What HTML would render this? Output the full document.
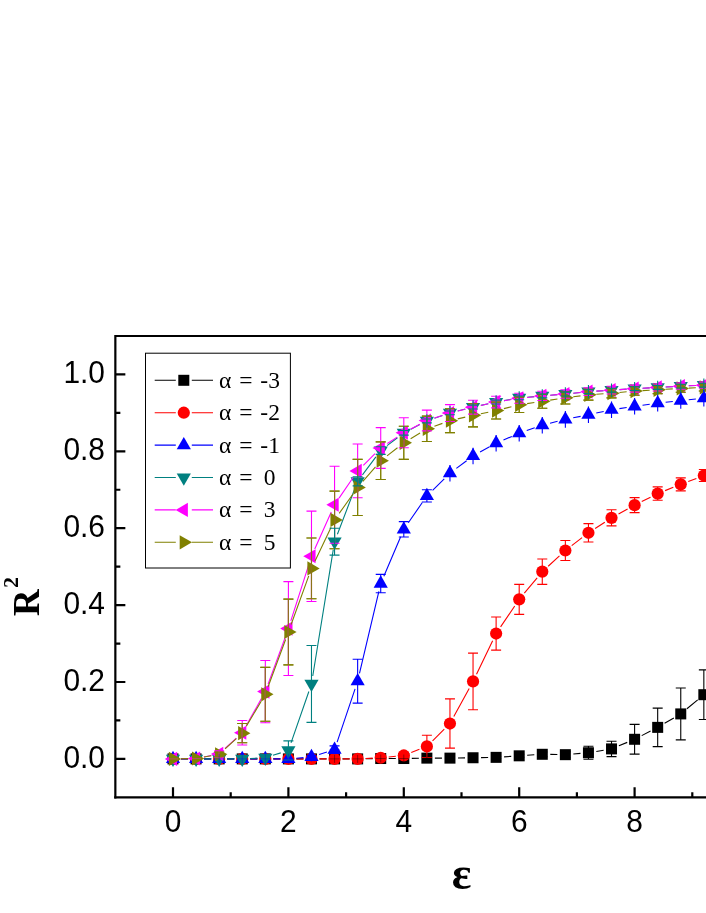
<!DOCTYPE html>
<html><head><meta charset="utf-8"><title>chart</title>
<style>html,body{margin:0;padding:0;background:#fff}body{width:706px;height:913px;overflow:hidden}</style>
</head><body>
<svg width="706" height="913" viewBox="0 0 706 913" style="display:block;will-change:transform">
<rect width="706" height="913" fill="#fff"/>
<path d="M181.00 758.90L188.08 758.90M204.08 758.90L211.16 758.90M227.16 758.90L234.24 758.90M250.24 758.90L257.32 758.90M273.32 758.90L280.40 758.90M296.40 758.90L303.48 758.90M319.48 758.90L326.56 758.90M342.56 758.90L349.64 758.90M365.64 758.77L372.72 758.65M388.72 758.52L395.80 758.52M411.80 758.38L418.88 758.26M434.88 758.13L441.96 758.13M457.96 758.00L465.04 757.88M481.04 757.61L488.12 757.50M504.10 756.83L511.22 756.36M527.18 755.29L534.30 754.82M550.28 754.42L557.36 754.54M573.33 754.01L580.47 753.41M596.33 751.43L603.63 750.22M618.91 745.83L627.21 742.37M641.71 735.62L650.57 731.04M664.59 723.34L673.85 717.94M686.91 708.79L697.69 699.81M709.59 689.13L721.17 677.95" stroke="#000000" stroke-width="1.1" fill="none"/>
<rect x="167.50" y="753.40" width="11" height="11" fill="#000000"/>
<rect x="190.58" y="753.40" width="11" height="11" fill="#000000"/>
<rect x="213.66" y="753.40" width="11" height="11" fill="#000000"/>
<rect x="236.74" y="753.40" width="11" height="11" fill="#000000"/>
<rect x="259.82" y="753.40" width="11" height="11" fill="#000000"/>
<rect x="282.90" y="753.40" width="11" height="11" fill="#000000"/>
<rect x="305.98" y="753.40" width="11" height="11" fill="#000000"/>
<rect x="329.06" y="753.40" width="11" height="11" fill="#000000"/>
<rect x="352.14" y="753.40" width="11" height="11" fill="#000000"/>
<rect x="375.22" y="753.02" width="11" height="11" fill="#000000"/>
<rect x="398.30" y="753.02" width="11" height="11" fill="#000000"/>
<rect x="421.38" y="752.63" width="11" height="11" fill="#000000"/>
<rect x="444.46" y="752.63" width="11" height="11" fill="#000000"/>
<rect x="467.54" y="752.25" width="11" height="11" fill="#000000"/>
<rect x="490.62" y="751.86" width="11" height="11" fill="#000000"/>
<rect x="513.70" y="750.32" width="11" height="11" fill="#000000"/>
<rect x="536.78" y="748.79" width="11" height="11" fill="#000000"/>
<rect x="559.86" y="749.17" width="11" height="11" fill="#000000"/>
<rect x="582.94" y="747.25" width="11" height="11" fill="#000000"/>
<rect x="606.02" y="743.40" width="11" height="11" fill="#000000"/>
<rect x="629.10" y="733.79" width="11" height="11" fill="#000000"/>
<rect x="652.18" y="721.87" width="11" height="11" fill="#000000"/>
<rect x="675.26" y="708.41" width="11" height="11" fill="#000000"/>
<rect x="698.34" y="689.19" width="11" height="11" fill="#000000"/>
<rect x="721.42" y="666.89" width="11" height="11" fill="#000000"/>
<path d="M181.00 758.90L188.08 758.90M204.08 758.90L211.16 758.90M227.16 758.90L234.24 758.90M250.24 758.90L257.32 758.90M273.32 758.90L280.40 758.90M296.40 758.90L303.48 758.90M319.48 758.90L326.56 758.90M342.56 758.90L349.64 758.90M365.63 758.50L372.73 758.15M388.68 756.95L395.84 756.24M411.25 752.52L419.43 749.32M432.56 740.77L444.28 729.16M453.81 716.51L469.19 688.44M476.51 674.22L492.65 640.76M500.59 626.92L514.73 605.96M524.32 593.19L537.16 577.79M548.18 566.24L559.46 555.91M571.71 545.63L582.09 537.68M595.15 528.46L604.81 522.18M618.53 513.96L627.59 508.98M641.76 501.55L650.52 497.17M665.11 490.62L673.33 487.34M688.23 481.50L696.37 478.39M711.50 473.23L719.26 470.90" stroke="#ff0000" stroke-width="1.1" fill="none"/>
<circle cx="173.00" cy="758.90" r="6.1" fill="#ff0000"/>
<circle cx="196.08" cy="758.90" r="6.1" fill="#ff0000"/>
<circle cx="219.16" cy="758.90" r="6.1" fill="#ff0000"/>
<circle cx="242.24" cy="758.90" r="6.1" fill="#ff0000"/>
<circle cx="265.32" cy="758.90" r="6.1" fill="#ff0000"/>
<circle cx="288.40" cy="758.90" r="6.1" fill="#ff0000"/>
<circle cx="311.48" cy="758.90" r="6.1" fill="#ff0000"/>
<circle cx="334.56" cy="758.90" r="6.1" fill="#ff0000"/>
<circle cx="357.64" cy="758.90" r="6.1" fill="#ff0000"/>
<circle cx="380.72" cy="757.75" r="6.1" fill="#ff0000"/>
<circle cx="403.80" cy="755.44" r="6.1" fill="#ff0000"/>
<circle cx="426.88" cy="746.40" r="6.1" fill="#ff0000"/>
<circle cx="449.96" cy="723.53" r="6.1" fill="#ff0000"/>
<circle cx="473.04" cy="681.42" r="6.1" fill="#ff0000"/>
<circle cx="496.12" cy="633.55" r="6.1" fill="#ff0000"/>
<circle cx="519.20" cy="599.33" r="6.1" fill="#ff0000"/>
<circle cx="542.28" cy="571.65" r="6.1" fill="#ff0000"/>
<circle cx="565.36" cy="550.50" r="6.1" fill="#ff0000"/>
<circle cx="588.44" cy="532.81" r="6.1" fill="#ff0000"/>
<circle cx="611.52" cy="517.82" r="6.1" fill="#ff0000"/>
<circle cx="634.60" cy="505.13" r="6.1" fill="#ff0000"/>
<circle cx="657.68" cy="493.59" r="6.1" fill="#ff0000"/>
<circle cx="680.76" cy="484.37" r="6.1" fill="#ff0000"/>
<circle cx="703.84" cy="475.52" r="6.1" fill="#ff0000"/>
<circle cx="726.92" cy="468.60" r="6.1" fill="#ff0000"/>
<path d="M181.00 758.90L188.08 758.90M204.08 758.90L211.16 758.90M227.16 758.90L234.24 758.90M250.24 758.90L257.32 758.90M273.32 758.90L280.40 758.90M296.37 758.24L303.51 757.64M319.11 754.56L326.93 752.09M337.12 742.09L355.08 688.81M359.48 673.45L378.88 591.35M383.85 576.21L400.67 536.71M408.34 522.77L422.34 502.49M432.59 490.29L444.25 478.82M456.36 468.42L466.64 460.71M480.05 452.06L489.11 447.08M503.46 440.05L511.86 436.41M526.75 430.59L534.73 427.80M550.04 423.21L557.60 421.33M573.20 417.82L580.60 416.34M596.26 413.08L603.70 411.47M619.43 408.59L626.69 407.50M642.53 405.26L649.75 404.29M665.63 402.31L672.81 401.47M688.72 399.75L695.88 399.03M711.81 397.57L718.95 396.98" stroke="#0000ff" stroke-width="1.1" fill="none"/>
<polygon points="173.00,750.70 165.90,763.00 180.10,763.00" fill="#0000ff"/>
<polygon points="196.08,750.70 188.98,763.00 203.18,763.00" fill="#0000ff"/>
<polygon points="219.16,750.70 212.06,763.00 226.26,763.00" fill="#0000ff"/>
<polygon points="242.24,750.70 235.14,763.00 249.34,763.00" fill="#0000ff"/>
<polygon points="265.32,750.70 258.22,763.00 272.42,763.00" fill="#0000ff"/>
<polygon points="288.40,750.70 281.30,763.00 295.50,763.00" fill="#0000ff"/>
<polygon points="311.48,748.78 304.38,761.08 318.58,761.08" fill="#0000ff"/>
<polygon points="334.56,741.47 327.46,753.77 341.66,753.77" fill="#0000ff"/>
<polygon points="357.64,673.03 350.54,685.33 364.74,685.33" fill="#0000ff"/>
<polygon points="380.72,575.37 373.62,587.67 387.82,587.67" fill="#0000ff"/>
<polygon points="403.80,521.16 396.70,533.45 410.90,533.45" fill="#0000ff"/>
<polygon points="426.88,487.70 419.78,500.00 433.98,500.00" fill="#0000ff"/>
<polygon points="449.96,465.02 442.86,477.32 457.06,477.32" fill="#0000ff"/>
<polygon points="473.04,447.72 465.94,460.01 480.14,460.01" fill="#0000ff"/>
<polygon points="496.12,435.03 489.02,447.32 503.22,447.32" fill="#0000ff"/>
<polygon points="519.20,425.03 512.10,437.33 526.30,437.33" fill="#0000ff"/>
<polygon points="542.28,416.96 535.18,429.25 549.38,429.25" fill="#0000ff"/>
<polygon points="565.36,411.19 558.26,423.49 572.46,423.49" fill="#0000ff"/>
<polygon points="588.44,406.57 581.34,418.87 595.54,418.87" fill="#0000ff"/>
<polygon points="611.52,401.58 604.42,413.87 618.62,413.87" fill="#0000ff"/>
<polygon points="634.60,398.12 627.50,410.41 641.70,410.41" fill="#0000ff"/>
<polygon points="657.68,395.04 650.58,407.34 664.78,407.34" fill="#0000ff"/>
<polygon points="680.76,392.35 673.66,404.65 687.86,404.65" fill="#0000ff"/>
<polygon points="703.84,390.04 696.74,402.34 710.94,402.34" fill="#0000ff"/>
<polygon points="726.92,388.12 719.82,400.42 734.02,400.42" fill="#0000ff"/>
<path d="M181.00 758.90L188.08 758.90M204.08 758.90L211.16 758.90M227.16 758.90L234.24 758.90M250.23 758.50L257.33 758.15M272.95 755.33L280.77 752.86M291.02 742.88L308.86 691.48M312.76 676.03L333.28 549.55M337.42 534.19L354.78 488.76M362.44 474.89L375.92 456.93M387.07 445.66L397.45 437.71M410.91 429.17L419.77 424.60M434.43 418.28L442.41 415.49M457.72 410.91L465.28 409.02M480.86 405.39L488.30 403.78M503.99 400.64L511.33 399.30M527.17 397.19L534.31 396.60M550.25 395.27L557.39 394.67M573.32 393.21L580.48 392.50M596.42 391.17L603.54 390.70M619.50 389.63L626.62 389.16M642.59 388.23L649.69 387.87M665.67 387.01L672.77 386.59M688.75 385.79L695.85 385.50M711.84 384.90L718.92 384.66" stroke="#008080" stroke-width="1.1" fill="none"/>
<polygon points="173.00,767.10 165.90,754.80 180.10,754.80" fill="#008080"/>
<polygon points="196.08,767.10 188.98,754.80 203.18,754.80" fill="#008080"/>
<polygon points="219.16,767.10 212.06,754.80 226.26,754.80" fill="#008080"/>
<polygon points="242.24,767.10 235.14,754.80 249.34,754.80" fill="#008080"/>
<polygon points="265.32,765.94 258.22,753.65 272.42,753.65" fill="#008080"/>
<polygon points="288.40,758.64 281.30,746.34 295.50,746.34" fill="#008080"/>
<polygon points="311.48,692.12 304.38,679.82 318.58,679.82" fill="#008080"/>
<polygon points="334.56,549.86 327.46,537.56 341.66,537.56" fill="#008080"/>
<polygon points="357.64,489.49 350.54,477.19 364.74,477.19" fill="#008080"/>
<polygon points="380.72,458.73 373.62,446.43 387.82,446.43" fill="#008080"/>
<polygon points="403.80,441.04 396.70,428.74 410.90,428.74" fill="#008080"/>
<polygon points="426.88,429.12 419.78,416.83 433.98,416.83" fill="#008080"/>
<polygon points="449.96,421.05 442.86,408.75 457.06,408.75" fill="#008080"/>
<polygon points="473.04,415.28 465.94,402.98 480.14,402.98" fill="#008080"/>
<polygon points="496.12,410.28 489.02,397.98 503.22,397.98" fill="#008080"/>
<polygon points="519.20,406.05 512.10,393.76 526.30,393.76" fill="#008080"/>
<polygon points="542.28,404.13 535.18,391.83 549.38,391.83" fill="#008080"/>
<polygon points="565.36,402.21 558.26,389.91 572.46,389.91" fill="#008080"/>
<polygon points="588.44,399.90 581.34,387.60 595.54,387.60" fill="#008080"/>
<polygon points="611.52,398.36 604.42,386.07 618.62,386.07" fill="#008080"/>
<polygon points="634.60,396.82 627.50,384.53 641.70,384.53" fill="#008080"/>
<polygon points="657.68,395.67 650.58,383.37 664.78,383.37" fill="#008080"/>
<polygon points="680.76,394.33 673.66,382.03 687.86,382.03" fill="#008080"/>
<polygon points="703.84,393.36 696.74,381.07 710.94,381.07" fill="#008080"/>
<polygon points="726.92,392.60 719.82,380.30 734.02,380.30" fill="#008080"/>
<path d="M181.00 758.77L188.08 758.65M203.92 756.95L211.32 755.47M225.06 748.50L236.34 738.16M246.15 725.78L261.41 698.59M268.07 684.10L285.65 636.07M290.83 620.93L309.05 563.89M314.75 548.97L331.29 512.05M339.07 498.14L353.13 477.52M363.32 465.27L375.04 453.63M387.39 443.57L397.13 437.11M410.88 428.96L419.80 424.27M434.49 418.07L442.35 415.51M457.72 411.08L465.28 409.16M480.85 405.47L488.31 403.81M504.01 400.77L511.31 399.55M527.16 397.44L534.32 396.73M550.25 395.27L557.39 394.67M573.32 393.21L580.48 392.50M596.42 391.17L603.54 390.70M619.50 389.63L626.62 389.16M642.59 388.23L649.69 387.87M665.67 387.01L672.77 386.59M688.75 385.79L695.85 385.50M711.84 384.90L718.92 384.66" stroke="#ff00ff" stroke-width="1.1" fill="none"/>
<polygon points="164.80,758.90 177.10,751.80 177.10,766.00" fill="#ff00ff"/>
<polygon points="187.88,758.52 200.18,751.42 200.18,765.62" fill="#ff00ff"/>
<polygon points="210.96,753.90 223.26,746.80 223.26,761.00" fill="#ff00ff"/>
<polygon points="234.04,732.75 246.34,725.65 246.34,739.85" fill="#ff00ff"/>
<polygon points="257.12,691.61 269.42,684.51 269.42,698.71" fill="#ff00ff"/>
<polygon points="280.20,628.55 292.50,621.45 292.50,635.65" fill="#ff00ff"/>
<polygon points="303.28,556.27 315.58,549.17 315.58,563.37" fill="#ff00ff"/>
<polygon points="326.36,504.75 338.66,497.65 338.66,511.85" fill="#ff00ff"/>
<polygon points="349.44,470.91 361.74,463.81 361.74,478.01" fill="#ff00ff"/>
<polygon points="372.52,447.99 384.82,440.89 384.82,455.09" fill="#ff00ff"/>
<polygon points="395.60,432.69 407.90,425.59 407.90,439.79" fill="#ff00ff"/>
<polygon points="418.68,420.54 430.98,413.44 430.98,427.64" fill="#ff00ff"/>
<polygon points="441.76,413.04 454.06,405.94 454.06,420.14" fill="#ff00ff"/>
<polygon points="464.84,407.20 477.14,400.10 477.14,414.30" fill="#ff00ff"/>
<polygon points="487.92,402.08 500.22,394.98 500.22,409.18" fill="#ff00ff"/>
<polygon points="511.00,398.24 523.30,391.14 523.30,405.34" fill="#ff00ff"/>
<polygon points="534.08,395.93 546.38,388.83 546.38,403.03" fill="#ff00ff"/>
<polygon points="557.16,394.01 569.46,386.91 569.46,401.11" fill="#ff00ff"/>
<polygon points="580.24,391.70 592.54,384.60 592.54,398.80" fill="#ff00ff"/>
<polygon points="603.32,390.16 615.62,383.06 615.62,397.26" fill="#ff00ff"/>
<polygon points="626.40,388.63 638.70,381.53 638.70,395.73" fill="#ff00ff"/>
<polygon points="649.48,387.47 661.78,380.37 661.78,394.57" fill="#ff00ff"/>
<polygon points="672.56,386.13 684.86,379.03 684.86,393.23" fill="#ff00ff"/>
<polygon points="695.64,385.17 707.94,378.07 707.94,392.27" fill="#ff00ff"/>
<polygon points="718.72,384.40 731.02,377.30 731.02,391.50" fill="#ff00ff"/>
<path d="M181.00 758.77L188.08 758.65M203.95 757.07L211.29 755.73M225.06 748.88L236.34 738.54M246.33 726.26L261.23 701.18M268.10 686.80L285.62 639.52M291.13 624.49L308.75 575.90M314.92 561.16L331.12 527.16M339.19 513.41L353.01 493.96M362.87 481.39L375.49 466.77M387.04 455.82L397.48 447.74M410.64 438.69L420.04 432.99M434.42 426.18L442.42 423.36M457.75 418.89L465.25 417.15M480.87 413.72L488.29 412.17M503.88 408.60L511.44 406.71M527.11 403.59L534.37 402.50M550.19 400.13L557.45 399.04M573.29 396.80L580.51 395.84M596.42 394.25L603.54 393.77M619.48 392.48L626.64 391.81M642.59 390.61L649.69 390.22M665.67 389.31L672.77 388.90M688.75 388.10L695.85 387.81M711.84 387.21L718.92 386.97" stroke="#808000" stroke-width="1.1" fill="none"/>
<polygon points="181.20,758.90 168.90,751.80 168.90,766.00" fill="#808000"/>
<polygon points="204.28,758.52 191.98,751.42 191.98,765.62" fill="#808000"/>
<polygon points="227.36,754.29 215.06,747.19 215.06,761.39" fill="#808000"/>
<polygon points="250.44,733.14 238.14,726.04 238.14,740.24" fill="#808000"/>
<polygon points="273.52,694.30 261.22,687.20 261.22,701.40" fill="#808000"/>
<polygon points="296.60,632.01 284.30,624.91 284.30,639.12" fill="#808000"/>
<polygon points="319.68,568.38 307.38,561.28 307.38,575.48" fill="#808000"/>
<polygon points="342.76,519.93 330.46,512.83 330.46,527.03" fill="#808000"/>
<polygon points="365.84,487.44 353.54,480.34 353.54,494.54" fill="#808000"/>
<polygon points="388.92,460.72 376.62,453.62 376.62,467.82" fill="#808000"/>
<polygon points="412.00,442.84 399.70,435.74 399.70,449.94" fill="#808000"/>
<polygon points="435.08,428.85 422.78,421.75 422.78,435.95" fill="#808000"/>
<polygon points="458.16,420.69 445.86,413.59 445.86,427.79" fill="#808000"/>
<polygon points="481.24,415.35 468.94,408.25 468.94,422.45" fill="#808000"/>
<polygon points="504.32,410.54 492.02,403.44 492.02,417.64" fill="#808000"/>
<polygon points="527.40,404.78 515.10,397.68 515.10,411.88" fill="#808000"/>
<polygon points="550.48,401.31 538.18,394.21 538.18,408.41" fill="#808000"/>
<polygon points="573.56,397.85 561.26,390.75 561.26,404.95" fill="#808000"/>
<polygon points="596.64,394.78 584.34,387.68 584.34,401.88" fill="#808000"/>
<polygon points="619.72,393.24 607.42,386.14 607.42,400.34" fill="#808000"/>
<polygon points="642.80,391.05 630.50,383.95 630.50,398.15" fill="#808000"/>
<polygon points="665.88,389.78 653.58,382.68 653.58,396.88" fill="#808000"/>
<polygon points="688.96,388.43 676.66,381.33 676.66,395.53" fill="#808000"/>
<polygon points="712.04,387.47 699.74,380.37 699.74,394.57" fill="#808000"/>
<polygon points="735.12,386.70 722.82,379.60 722.82,393.80" fill="#808000"/>
<path d="M219.16 751.98V756.59M214.16 751.98H224.16M214.16 756.59H224.16M242.24 723.53V742.75M237.24 723.53H247.24M237.24 742.75H247.24M265.32 667.39V721.22M260.32 667.39H270.32M260.32 721.22H270.32M288.40 599.14V664.89M283.40 599.14H293.40M283.40 664.89H293.40M311.48 538.00V598.76M306.48 538.00H316.48M306.48 598.76H316.48M334.56 491.10V548.77M329.56 491.10H339.56M329.56 548.77H339.56M357.64 459.37V515.51M352.64 459.37H362.64M352.64 515.51H362.64M380.72 441.88V479.56M375.72 441.88H385.72M375.72 479.56H385.72M403.80 426.31V459.37M398.80 426.31H408.80M398.80 459.37H408.80M426.88 416.16V441.53M421.88 416.16H431.88M421.88 441.53H431.88M449.96 408.77V432.61M444.96 408.77H454.96M444.96 432.61H454.96M473.04 403.81V426.88M468.04 403.81H478.04M468.04 426.88H478.04M496.12 402.08V419.00M491.12 402.08H501.12M491.12 419.00H501.12M519.20 397.09V412.47M514.20 397.09H524.20M514.20 412.47H524.20M542.28 394.39V408.24M537.28 394.39H547.28M537.28 408.24H547.28M565.36 391.70V404.01M560.36 391.70H570.36M560.36 404.01H570.36M588.44 389.40V400.16M583.44 389.40H593.44M583.44 400.16H593.44M611.52 388.63V397.85M606.52 388.63H616.52M606.52 397.85H616.52M634.60 386.82V395.28M629.60 386.82H639.60M629.60 395.28H639.60M657.68 385.94V393.62M652.68 385.94H662.68M652.68 393.62H662.68M680.76 384.59V392.28M675.76 384.59H685.76M675.76 392.28H685.76M703.84 384.01V390.93M698.84 384.01H708.84M698.84 390.93H708.84M726.92 383.24V390.16M721.92 383.24H731.92M721.92 390.16H731.92" stroke="#808000" stroke-width="1.1" fill="none" opacity="1"/>
<path d="M219.16 750.83V756.98M214.16 750.83H224.16M214.16 756.98H224.16M242.24 720.45V745.06M237.24 720.45H247.24M237.24 745.06H247.24M265.32 660.47V722.76M260.32 660.47H270.32M260.32 722.76H270.32M288.40 581.65V675.46M283.40 581.65H293.40M283.40 675.46H293.40M311.48 511.09V601.45M306.48 511.09H316.48M306.48 601.45H316.48M334.56 466.30V543.20M329.56 466.30H339.56M329.56 543.20H339.56M357.64 443.99V497.82M352.64 443.99H362.64M352.64 497.82H362.64M380.72 427.61V468.37M375.72 427.61H385.72M375.72 468.37H385.72M403.80 417.69V447.69M398.80 417.69H408.80M398.80 447.69H408.80M426.88 410.16V430.92M421.88 410.16H431.88M421.88 430.92H431.88M449.96 404.58V421.50M444.96 404.58H454.96M444.96 421.50H454.96M473.04 400.28V414.12M468.04 400.28H478.04M468.04 414.12H478.04M496.12 396.32V407.85M491.12 396.32H501.12M491.12 407.85H501.12M519.20 393.24V403.24M514.20 393.24H524.20M514.20 403.24H524.20M542.28 391.32V400.55M537.28 391.32H547.28M537.28 400.55H547.28M565.36 389.78V398.24M560.36 389.78H570.36M560.36 398.24H570.36M588.44 387.86V395.55M583.44 387.86H593.44M583.44 395.55H593.44M611.52 386.32V394.01M606.52 386.32H616.52M606.52 394.01H616.52M634.60 385.17V392.09M629.60 385.17H639.60M629.60 392.09H639.60M657.68 384.01V390.93M652.68 384.01H662.68M652.68 390.93H662.68M680.76 383.05V389.20M675.76 383.05H685.76M675.76 389.20H685.76M703.84 382.09V388.24M698.84 382.09H708.84M698.84 388.24H708.84M726.92 381.32V387.47M721.92 381.32H731.92M721.92 387.47H731.92" stroke="#ff00ff" stroke-width="1.1" fill="none" opacity="1"/>
<path d="M219.16 751.98V756.59M214.16 751.98H224.16M214.16 756.59H224.16M242.24 723.53V742.75M237.24 723.53H247.24M237.24 742.75H247.24M265.32 667.39V721.22M260.32 667.39H270.32M260.32 721.22H270.32M288.40 599.14V664.89M283.40 599.14H293.40M283.40 664.89H293.40M311.48 538.00V598.76M306.48 538.00H316.48M306.48 598.76H316.48M334.56 491.10V548.77M329.56 491.10H339.56M329.56 548.77H339.56M357.64 459.37V515.51M352.64 459.37H362.64M352.64 515.51H362.64M380.72 441.88V479.56M375.72 441.88H385.72M375.72 479.56H385.72M403.80 426.31V459.37M398.80 426.31H408.80M398.80 459.37H408.80M426.88 416.16V441.53M421.88 416.16H431.88M421.88 441.53H431.88M449.96 408.77V432.61M444.96 408.77H454.96M444.96 432.61H454.96M473.04 403.81V426.88M468.04 403.81H478.04M468.04 426.88H478.04M496.12 402.08V419.00M491.12 402.08H501.12M491.12 419.00H501.12M519.20 397.09V412.47M514.20 397.09H524.20M514.20 412.47H524.20M542.28 394.39V408.24M537.28 394.39H547.28M537.28 408.24H547.28M565.36 391.70V404.01M560.36 391.70H570.36M560.36 404.01H570.36M588.44 389.40V400.16M583.44 389.40H593.44M583.44 400.16H593.44M611.52 388.63V397.85M606.52 388.63H616.52M606.52 397.85H616.52M634.60 386.82V395.28M629.60 386.82H639.60M629.60 395.28H639.60M657.68 385.94V393.62M652.68 385.94H662.68M652.68 393.62H662.68M680.76 384.59V392.28M675.76 384.59H685.76M675.76 392.28H685.76M703.84 384.01V390.93M698.84 384.01H708.84M698.84 390.93H708.84M726.92 383.24V390.16M721.92 383.24H731.92M721.92 390.16H731.92" stroke="#808000" stroke-width="1.1" fill="none" opacity="0.9"/>
<path d="M265.32 756.21V759.28M260.32 756.21H270.32M260.32 759.28H270.32M288.40 740.83V760.05M283.40 740.83H293.40M283.40 760.05H293.40M311.48 645.47V722.37M306.48 645.47H316.48M306.48 722.37H316.48M334.56 528.20V555.12M329.56 528.20H339.56M329.56 555.12H339.56M357.64 476.68V485.90M352.64 476.68H362.64M352.64 485.90H362.64M380.72 446.69V454.38M375.72 446.69H385.72M375.72 454.38H385.72M403.80 426.12V439.57M403.80 430.54V435.15M398.80 430.54H408.80M398.80 435.15H408.80M426.88 414.20V427.65M426.88 419.00V422.85M421.88 419.00H431.88M421.88 422.85H431.88M449.96 406.12V419.58M449.96 410.93V414.77M444.96 410.93H454.96M444.96 414.77H454.96M473.04 400.35V413.81M473.04 405.16V409.00M468.04 405.16H478.04M468.04 409.00H478.04M496.12 395.36V408.81M496.12 400.16V404.01M491.12 400.16H501.12M491.12 404.01H501.12M519.20 391.13V404.58M519.20 395.93V399.78M514.20 395.93H524.20M514.20 399.78H524.20M542.28 389.20V402.66M542.28 394.01V397.85M537.28 394.01H547.28M537.28 397.85H547.28M565.36 387.28V400.74M565.36 392.09V395.93M560.36 392.09H570.36M560.36 395.93H570.36M588.44 384.97V398.43M588.44 389.78V393.62M583.44 389.78H593.44M583.44 393.62H593.44M611.52 383.44V396.89M611.52 388.24V392.09M606.52 388.24H616.52M606.52 392.09H616.52M634.60 381.90V395.36M634.60 386.70V390.55M629.60 386.70H639.60M629.60 390.55H639.60M657.68 380.74V394.20M657.68 385.55V389.40M652.68 385.55H662.68M652.68 389.40H662.68M680.76 379.40V392.86M680.76 384.20V388.05M675.76 384.20H685.76M675.76 388.05H685.76M703.84 378.44V391.89M703.84 383.24V387.09M698.84 383.24H708.84M698.84 387.09H708.84M726.92 377.67V391.13M726.92 382.47V386.32M721.92 382.47H731.92M721.92 386.32H731.92" stroke="#008080" stroke-width="1.1" fill="none" opacity="1"/>
<path d="M311.48 755.44V758.52M306.48 755.44H316.48M306.48 758.52H316.48M334.56 745.83V753.52M329.56 745.83H339.56M329.56 753.52H339.56M357.64 659.31V703.15M352.64 659.31H362.64M352.64 703.15H362.64M380.72 574.34V592.80M375.72 574.34H385.72M375.72 592.80H385.72M403.80 521.66V537.04M398.80 521.66H408.80M398.80 537.04H408.80M426.88 489.75V502.05M421.88 489.75H431.88M421.88 502.05H431.88M449.96 464.95V481.48M473.04 447.65V464.18M496.12 434.96V451.49M519.20 424.96V441.50M542.28 416.89V433.42M565.36 411.12V427.65M588.44 406.51V423.04M611.52 401.51V418.04M634.60 398.05V414.58M657.68 394.97V411.50M680.76 392.28V408.81M703.84 389.97V406.51M726.92 388.05V404.58" stroke="#0000ff" stroke-width="1.1" fill="none" opacity="1"/>
<path d="M380.72 756.59V758.90M375.72 756.59H385.72M375.72 758.90H385.72M403.80 752.36V758.52M398.80 752.36H408.80M398.80 758.52H408.80M426.88 735.25V757.55M421.88 735.25H431.88M421.88 757.55H431.88M449.96 698.92V748.13M444.96 698.92H454.96M444.96 748.13H454.96M473.04 653.16V709.68M468.04 653.16H478.04M468.04 709.68H478.04M496.12 617.02V650.09M491.12 617.02H501.12M491.12 650.09H501.12M519.20 584.34V614.33M514.20 584.34H524.20M514.20 614.33H524.20M542.28 558.96V584.34M537.28 558.96H547.28M537.28 584.34H547.28M565.36 540.50V560.50M560.36 540.50H570.36M560.36 560.50H570.36M588.44 523.59V542.04M583.44 523.59H593.44M583.44 542.04H593.44M611.52 509.74V525.89M606.52 509.74H616.52M606.52 525.89H616.52M634.60 497.63V512.63M629.60 497.63H639.60M629.60 512.63H639.60M657.68 486.87V500.32M652.68 486.87H662.68M652.68 500.32H662.68M680.76 477.83V490.90M675.76 477.83H685.76M675.76 490.90H685.76M703.84 469.53V481.52M698.84 469.53H708.84M698.84 481.52H708.84M726.92 462.83V474.37M721.92 462.83H731.92M721.92 474.37H731.92" stroke="#ff0000" stroke-width="1.1" fill="none" opacity="1"/>
<path d="M496.12 756.21V758.52M491.12 756.21H501.12M491.12 758.52H501.12M519.20 754.29V757.36M514.20 754.29H524.20M514.20 757.36H524.20M542.28 751.98V756.59M537.28 751.98H547.28M537.28 756.59H547.28M565.36 751.59V757.75M560.36 751.59H570.36M560.36 757.75H570.36M588.44 746.21V759.28M583.44 746.21H593.44M583.44 759.28H593.44M611.52 741.21V756.59M606.52 741.21H616.52M606.52 756.59H616.52M634.60 724.41V754.17M629.60 724.41H639.60M629.60 754.17H639.60M657.68 708.15V746.60M652.68 708.15H662.68M652.68 746.60H662.68M680.76 687.96V739.87M675.76 687.96H685.76M675.76 739.87H685.76M703.84 669.89V719.49M698.84 669.89H708.84M698.84 719.49H708.84M726.92 645.47V699.30M721.92 645.47H731.92M721.92 699.30H731.92" stroke="#000000" stroke-width="1.1" fill="none" opacity="1"/>
<path d="M168.00 758.90H178.00" stroke="#ff00ff" stroke-width="1" fill="none" opacity="0.4"/>
<path d="M191.08 758.52H201.08" stroke="#ff00ff" stroke-width="1" fill="none" opacity="0.4"/>
<path d="M214.16 758.90H224.16M219.16 753.90V763.90" stroke="#0000ff" stroke-width="1" fill="none" opacity="0.4"/>
<path d="M237.24 758.90H247.24M242.24 753.90V763.90" stroke="#0000ff" stroke-width="1" fill="none" opacity="0.4"/>
<path d="M260.32 758.90H270.32M265.32 753.90V763.90" stroke="#0000ff" stroke-width="1" fill="none" opacity="0.4"/>
<path d="M283.40 758.90H293.40M288.40 753.90V763.90" stroke="#0000ff" stroke-width="1" fill="none" opacity="0.4"/>
<path d="M306.48 756.98H316.48M311.48 751.98V761.98" stroke="#0000ff" stroke-width="1" fill="none" opacity="0.4"/>
<path d="M329.56 749.67H339.56M334.56 744.67V754.67" stroke="#0000ff" stroke-width="1" fill="none" opacity="0.4"/>
<path d="M329.56 758.90H339.56M334.56 754.90V762.90" stroke="#000000" stroke-width="1" fill="none" opacity="0.4"/>
<path d="M352.64 758.90H362.64M357.64 754.90V762.90" stroke="#000000" stroke-width="1" fill="none" opacity="0.4"/>
<path d="M375.72 758.52H385.72M380.72 754.52V762.52" stroke="#000000" stroke-width="1" fill="none" opacity="0.4"/>
<path d="M398.80 758.52H408.80M403.80 754.52V762.52" stroke="#000000" stroke-width="1" fill="none" opacity="0.4"/>
<path d="M421.88 758.13H431.88M426.88 754.13V762.13" stroke="#000000" stroke-width="1" fill="none" opacity="0.4"/>
<path d="M444.96 758.13H454.96M449.96 754.13V762.13" stroke="#000000" stroke-width="1" fill="none" opacity="0.4"/>
<path d="M468.04 757.75H478.04M473.04 753.75V761.75" stroke="#000000" stroke-width="1" fill="none" opacity="0.4"/>
<g stroke="#000" stroke-width="2.2" fill="none" stroke-linecap="butt">
<path d="M115.35 798.4V336.0H706"/>
<path d="M114.25 797.3H706"/>
<path d="M115.35 758.90h10M115.35 720.45h5M115.35 682.00h10M115.35 643.55h5M115.35 605.10h10M115.35 566.65h5M115.35 528.20h10M115.35 489.75h5M115.35 451.30h10M115.35 412.85h5M115.35 374.40h10M173.00 797.3v-10M230.70 797.3v-5M288.40 797.3v-10M346.10 797.3v-5M403.80 797.3v-10M461.50 797.3v-5M519.20 797.3v-10M576.90 797.3v-5M634.60 797.3v-10M692.30 797.3v-5"/>
</g>
<g font-family="Liberation Sans, sans-serif" font-size="31" fill="#000">
<text transform="translate(105.0,767.90) scale(0.965,1)" text-anchor="end">0.0</text>
<text transform="translate(105.0,691.00) scale(0.965,1)" text-anchor="end">0.2</text>
<text transform="translate(105.0,614.10) scale(0.965,1)" text-anchor="end">0.4</text>
<text transform="translate(105.0,537.20) scale(0.965,1)" text-anchor="end">0.6</text>
<text transform="translate(105.0,460.30) scale(0.965,1)" text-anchor="end">0.8</text>
<text transform="translate(105.0,383.40) scale(0.965,1)" text-anchor="end">1.0</text>
<text transform="translate(173.00,831.7) scale(0.965,1)" text-anchor="middle">0</text>
<text transform="translate(288.40,831.7) scale(0.965,1)" text-anchor="middle">2</text>
<text transform="translate(403.80,831.7) scale(0.965,1)" text-anchor="middle">4</text>
<text transform="translate(519.20,831.7) scale(0.965,1)" text-anchor="middle">6</text>
<text transform="translate(634.60,831.7) scale(0.965,1)" text-anchor="middle">8</text>
</g>
<g font-family="Liberation Serif, serif" font-weight="bold" fill="#000">
<text transform="translate(39,616) rotate(-90)" font-size="37">R</text>
<text transform="translate(17.7,588) rotate(-90)" font-size="22">2</text>
<text x="461.5" y="889" font-size="46" text-anchor="middle">ε</text>
</g>
<rect x="145.5" y="353.2" width="144.89999999999998" height="214.8" fill="#fff" stroke="#000" stroke-width="1"/>
<path d="M154.7 380.30H175.8M191.8 380.30H213" stroke="#000000" stroke-width="1.1"/>
<rect x="178.30" y="374.80" width="11" height="11" fill="#000000"/>
<text x="219" y="387.80" font-family="Liberation Serif, serif" font-size="23.5" word-spacing="2" fill="#000" xml:space="preserve">α = -3</text>
<path d="M154.7 412.70H175.8M191.8 412.70H213" stroke="#ff0000" stroke-width="1.1"/>
<circle cx="183.80" cy="412.70" r="6.1" fill="#ff0000"/>
<text x="219" y="420.20" font-family="Liberation Serif, serif" font-size="23.5" word-spacing="2" fill="#000" xml:space="preserve">α = -2</text>
<path d="M154.7 445.10H175.8M191.8 445.10H213" stroke="#0000ff" stroke-width="1.1"/>
<polygon points="183.80,436.90 176.70,449.20 190.90,449.20" fill="#0000ff"/>
<text x="219" y="452.60" font-family="Liberation Serif, serif" font-size="23.5" word-spacing="2" fill="#000" xml:space="preserve">α = -1</text>
<path d="M154.7 477.50H175.8M191.8 477.50H213" stroke="#008080" stroke-width="1.1"/>
<polygon points="183.80,485.70 176.70,473.40 190.90,473.40" fill="#008080"/>
<text x="219" y="485.00" font-family="Liberation Serif, serif" font-size="23.5" word-spacing="2" fill="#000" xml:space="preserve">α = <tspan dx="3.4">0</tspan></text>
<path d="M154.7 509.90H175.8M191.8 509.90H213" stroke="#ff00ff" stroke-width="1.1"/>
<polygon points="175.60,509.90 187.90,502.80 187.90,517.00" fill="#ff00ff"/>
<text x="219" y="517.40" font-family="Liberation Serif, serif" font-size="23.5" word-spacing="2" fill="#000" xml:space="preserve">α = <tspan dx="3.4">3</tspan></text>
<path d="M154.7 542.30H175.8M191.8 542.30H213" stroke="#808000" stroke-width="1.1"/>
<polygon points="192.00,542.30 179.70,535.20 179.70,549.40" fill="#808000"/>
<text x="219" y="549.80" font-family="Liberation Serif, serif" font-size="23.5" word-spacing="2" fill="#000" xml:space="preserve">α = <tspan dx="3.4">5</tspan></text>
</svg>
</body></html>
